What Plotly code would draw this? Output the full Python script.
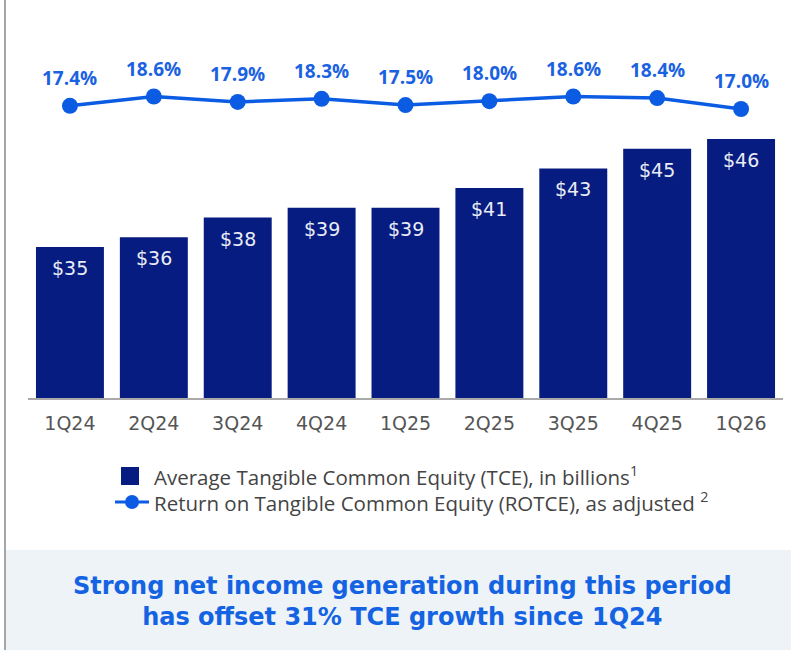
import plotly.graph_objects as go

# Quarterly data
quarters = ["1Q24", "2Q24", "3Q24", "4Q24", "1Q25", "2Q25", "3Q25", "4Q25", "1Q26"]
avg_tce_bn = [35, 36, 38, 39, 39, 41, 43, 45, 46]
rotce_pct = [17.4, 18.6, 17.9, 18.3, 17.5, 18.0, 18.6, 18.4, 17.0]

NAVY = "#071c80"
BLUE = "#0b5ce2"
LABEL_BLUE = "#1a62e2"
GREY_TEXT = "#555555"

W, H = 791, 650
L, R, T, B = 28, 8, 40, 252
PW, PH = W - L - R, H - T - B


def px(x):
    return (x - L) / PW


def py(y):
    return (H - B - y) / PH


fig = go.Figure()

fig.add_trace(go.Bar(
    x=quarters, y=avg_tce_bn,
    name="Average Tangible Common Equity (TCE), in billions",
    marker=dict(color=NAVY, line=dict(width=0)),
    yaxis="y", showlegend=False, hoverinfo="skip",
))

fig.add_trace(go.Scatter(
    x=quarters, y=rotce_pct,
    name="Return on Tangible Common Equity (ROTCE), as adjusted",
    mode="lines+markers",
    line=dict(color=BLUE, width=3.5),
    marker=dict(color=BLUE, size=16),
    yaxis="y2", showlegend=False, hoverinfo="skip",
))

annotations = []
# Value labels inside the top of each bar
for q, v in zip(quarters, avg_tce_bn):
    annotations.append(dict(
        x=q, y=v, xref="x", yref="y", text=f"${v}", showarrow=False,
        yanchor="middle", yshift=-21,
        font=dict(family="DejaVu Sans, Arial, sans-serif", size=19, color="#e8ecf6"),
    ))
# Percent labels above each line point
for q, v in zip(quarters, rotce_pct):
    annotations.append(dict(
        x=q, y=v, xref="x", yref="y2", text=f"{v:.1f}%", showarrow=False,
        yanchor="middle", yshift=28,
        font=dict(family="Open Sans, Arial, sans-serif", size=19, color=LABEL_BLUE,
                  weight="bold"),
    ))

# Legend text
legend_font = dict(family="Open Sans, Arial, sans-serif", size=20.5, color="#444444")
annotations.append(dict(
    x=px(152), y=py(476), xref="paper", yref="paper", xanchor="left", yanchor="middle",
    text="Average Tangible Common Equity (TCE), in billions<sup>1</sup>",
    showarrow=False, font=legend_font,
))
annotations.append(dict(
    x=px(152), y=py(502), xref="paper", yref="paper", xanchor="left", yanchor="middle",
    text="Return on Tangible Common Equity (ROTCE), as adjusted <sup>2</sup>",
    showarrow=False, font=legend_font,
))

# Takeaway box text
annotations.append(dict(
    x=px(402), y=py(601), xref="paper", yref="paper", xanchor="center", yanchor="middle",
    text="Strong net income generation during this period<br>has offset 31% TCE growth since 1Q24",
    showarrow=False,
    font=dict(family="DejaVu Sans, Arial, sans-serif", size=24, color="#1463e3", weight="bold"),
))

shapes = [
    # takeaway box background
    dict(type="rect", xref="paper", yref="paper", x0=px(6), x1=px(W + 2),
         y0=py(550), y1=py(H + 2), fillcolor="#eef3f7", line=dict(width=0), layer="below"),
    # left frame line
    dict(type="line", xref="paper", yref="paper", x0=px(5), x1=px(5),
         y0=py(-2), y1=py(H + 2), line=dict(color="#a6a6a6", width=2)),
    # legend: bar swatch
    dict(type="rect", xref="paper", yref="paper", x0=px(121), x1=px(139),
         y0=py(467), y1=py(485), fillcolor=NAVY, line=dict(width=0)),
    # legend: line swatch
    dict(type="line", xref="paper", yref="paper", x0=px(115), x1=px(149),
         y0=py(502), y1=py(502), line=dict(color=BLUE, width=3)),
    dict(type="circle", xref="paper", yref="paper", x0=px(125), x1=px(139),
         y0=py(495), y1=py(509), fillcolor=BLUE, line=dict(width=0)),
]

fig.update_layout(
    width=W, height=H,
    margin=dict(l=L, r=R, t=T, b=B, pad=0),
    paper_bgcolor="white", plot_bgcolor="white",
    bargap=0.19,
    xaxis=dict(
        type="category", range=[-0.5, len(quarters) - 0.5],
        showgrid=False, zeroline=False,
        showline=True, linecolor="#a9a9a9", linewidth=1.5,
        ticks="", ticklabelstandoff=7,
        tickfont=dict(family="DejaVu Sans, Arial, sans-serif", size=19, color=GREY_TEXT),
    ),
    yaxis=dict(range=[19.62, 19.62 + PH / 9.82], visible=False, fixedrange=True),
    yaxis2=dict(range=[18.6 - (H - B - 96.5) / 7.8, 18.6 + (96.5 - T) / 7.8],
                overlaying="y", visible=False),
    annotations=annotations,
    shapes=shapes,
    showlegend=False,
)

fig.write_html("out.html")
